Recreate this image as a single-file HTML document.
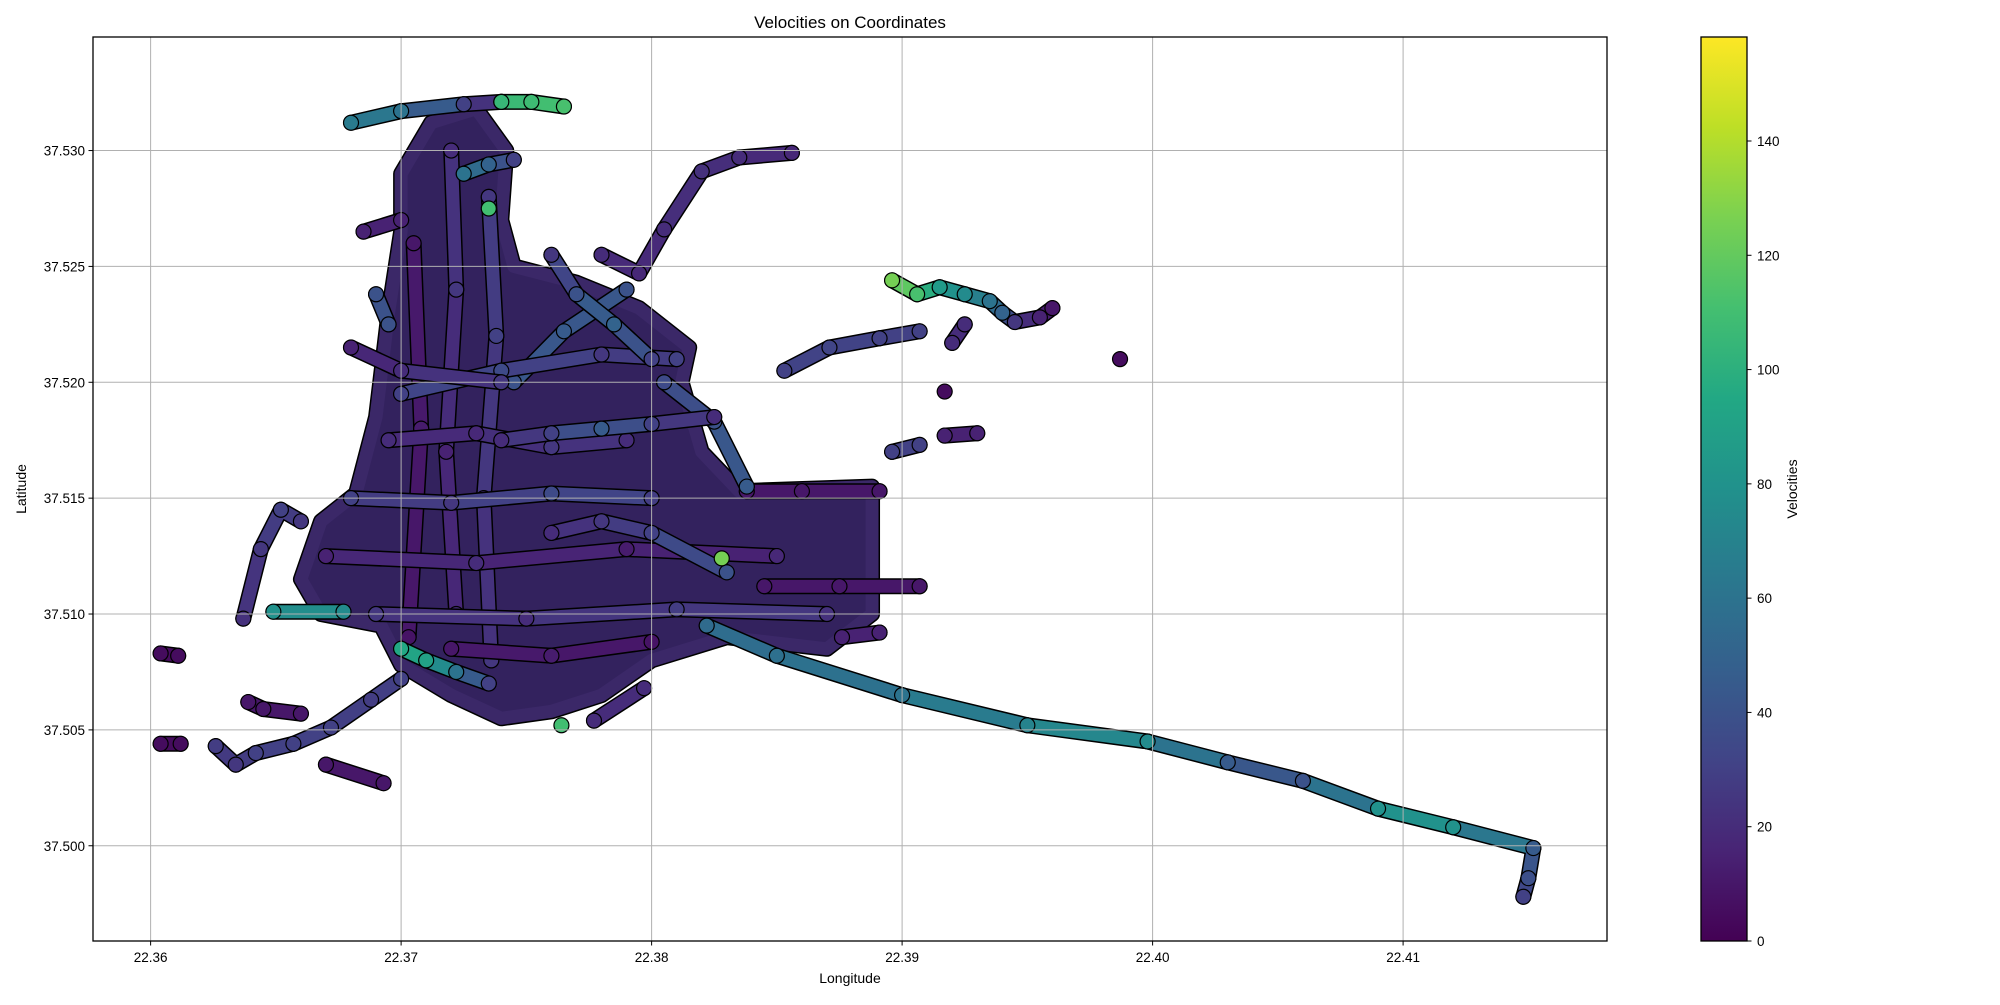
<!DOCTYPE html>
<html><head><meta charset="utf-8"><style>
body{margin:0;background:#fff}
svg text{font-family:"Liberation Sans","DejaVu Sans",sans-serif;fill:#000}
</style></head><body>
<svg id="chart" width="2000" height="1000" viewBox="0 0 2000 1000" xmlns="http://www.w3.org/2000/svg">
<defs><linearGradient id="vir" x1="0" y1="1" x2="0" y2="0">
<stop offset="0" stop-color="#440154"/><stop offset="0.1" stop-color="#482475"/><stop offset="0.2" stop-color="#414487"/><stop offset="0.3" stop-color="#355f8d"/><stop offset="0.4" stop-color="#2a788e"/><stop offset="0.5" stop-color="#21918c"/><stop offset="0.6" stop-color="#22a884"/><stop offset="0.7" stop-color="#44bf70"/><stop offset="0.8" stop-color="#7ad151"/><stop offset="0.9" stop-color="#bddf26"/><stop offset="1" stop-color="#fde725"/></linearGradient>
<clipPath id="clip"><rect x="93" y="37" width="1514" height="904"/></clipPath></defs>
<text x="850" y="28" font-size="17" text-anchor="middle">Velocities on Coordinates</text>
<g id="plot" clip-path="url(#clip)"></g>
<g id="grid"></g>
<rect x="93" y="37" width="1514" height="904" fill="none" stroke="#000" stroke-width="1.3"/>
<g id="axes"></g>
<text x="850" y="983" font-size="14" text-anchor="middle">Longitude</text>
<text transform="translate(26,489) rotate(-90)" font-size="14" text-anchor="middle">Latitude</text>
<rect x="1701" y="37" width="46" height="904" fill="url(#vir)" stroke="#000" stroke-width="1.3"/>
<g id="cbar"></g>
<text transform="translate(1797,489) rotate(-90)" font-size="14" text-anchor="middle">Velocities</text>
</svg>
<script>
const xTicks=[22.36,22.37,22.38,22.39,22.40,22.41];
const yTicks=[37.500,37.505,37.510,37.515,37.520,37.525,37.530];
const cTicks=[0,20,40,60,80,100,120,140];
const vMax=158.2;
const coreLon=[22.3700,22.3712,22.3730,22.3742,22.3740,22.3745,22.3770,22.3795,22.3815,22.3812,22.3820,22.3835,22.3888,22.3888,22.3870,22.3830,22.3800,22.3780,22.3760,22.3740,22.3720,22.3700,22.3692,22.3668,22.3660,22.3668,22.3682,22.3690,22.3695,22.3700];
const coreLat=[37.5290,37.5312,37.5318,37.5300,37.5270,37.5250,37.5243,37.5232,37.5215,37.5200,37.5170,37.5153,37.5155,37.5100,37.5085,37.5090,37.5080,37.5065,37.5058,37.5055,37.5065,37.5078,37.5095,37.5100,37.5115,37.5140,37.5152,37.5185,37.5230,37.5265];
const trackLon=[
[22.3720,22.3722,22.3718,22.3722],
[22.3735,22.3738,22.3733,22.3736],
[22.3705,22.3708,22.3703],
[22.3690,22.3750,22.3810,22.3870],
[22.3670,22.3730,22.3790,22.3850],
[22.3680,22.3720,22.3760,22.3800],
[22.3695,22.3730,22.3760,22.3790],
[22.3720,22.3760,22.3800],
[22.3745,22.3765,22.3790],
[22.3700,22.3740,22.3780,22.3810],
[22.3680,22.3700,22.3740],
[22.3760,22.3780,22.3800,22.3830],
[22.3680,22.3700,22.3725,22.3740],
[22.3740,22.3752,22.3765],
[22.3780,22.3795,22.3805,22.3820,22.3835,22.3856],
[22.3896,22.3906,22.3915,22.3925,22.3935,22.3940,22.3945,22.3955,22.3960],
[22.3853,22.3871,22.3891,22.3907],
[22.3920,22.3925],
[22.3896,22.3907],
[22.3917,22.3930],
[22.3838,22.3860,22.3891],
[22.3845,22.3875,22.3907],
[22.3637,22.3644,22.3652,22.3660],
[22.3604,22.3611],
[22.3604,22.3612],
[22.3626,22.3634,22.3642,22.3657,22.3672,22.3688,22.3700],
[22.3670,22.3693],
[22.3639,22.3645,22.3660],
[22.3649,22.3677],
[22.3876,22.3891],
[22.3777,22.3797],
[22.3805,22.3825,22.3838],
[22.3822,22.3850,22.3900,22.3950,22.3998,22.4030,22.4060,22.4090,22.4120,22.4152,22.4150,22.4148],
[22.3685,22.3700],
[22.3690,22.3695],
[22.3700,22.3710,22.3722,22.3735],
[22.3760,22.3770,22.3785,22.3800],
[22.3740,22.3760,22.3780,22.3800,22.3825],
[22.3725,22.3735,22.3745],
[22.3987],[22.3917],[22.3735],[22.3828],[22.3764]
];
const trackLat=[
[37.5300,37.5240,37.5170,37.5100],
[37.5280,37.5220,37.5150,37.5080],
[37.5260,37.5180,37.5090],
[37.5100,37.5098,37.5102,37.5100],
[37.5125,37.5122,37.5128,37.5125],
[37.5150,37.5148,37.5152,37.5150],
[37.5175,37.5178,37.5172,37.5175],
[37.5085,37.5082,37.5088],
[37.5200,37.5222,37.5240],
[37.5195,37.5205,37.5212,37.5210],
[37.5215,37.5205,37.5200],
[37.5135,37.5140,37.5135,37.5118],
[37.5312,37.5317,37.5320,37.5321],
[37.5321,37.5321,37.5319],
[37.5255,37.5247,37.5266,37.5291,37.5297,37.5299],
[37.5244,37.5238,37.5241,37.5238,37.5235,37.5230,37.5226,37.5228,37.5232],
[37.5205,37.5215,37.5219,37.5222],
[37.5217,37.5225],
[37.5170,37.5173],
[37.5177,37.5178],
[37.5153,37.5153,37.5153],
[37.5112,37.5112,37.5112],
[37.5098,37.5128,37.5145,37.5140],
[37.5083,37.5082],
[37.5044,37.5044],
[37.5043,37.5035,37.5040,37.5044,37.5051,37.5063,37.5072],
[37.5035,37.5027],
[37.5062,37.5059,37.5057],
[37.5101,37.5101],
[37.5090,37.5092],
[37.5054,37.5068],
[37.5200,37.5183,37.5155],
[37.5095,37.5082,37.5065,37.5052,37.5045,37.5036,37.5028,37.5016,37.5008,37.4999,37.4986,37.4978],
[37.5265,37.5270],
[37.5238,37.5225],
[37.5085,37.5080,37.5075,37.5070],
[37.5255,37.5238,37.5225,37.5210],
[37.5175,37.5178,37.5180,37.5182,37.5185],
[37.5290,37.5294,37.5296],
[37.5210],[37.5196],[37.5275],[37.5124],[37.5052]
];
const trackVel=[
[20,25,15,20],[25,30,20,25],[10,12,8],[25,20,28,22],[15,20,12,18],[30,25,35,28],[20,18,25,20],[10,12,8],[40,45,40],[30,35,25,30],[15,20,25],[20,25,30,40],
[65,60,30,15],[105,108,112],[20,18,20,22,20,18],[125,112,85,75,60,50,25,15,10],[30,32,30,30],[20,20],[30,30],[15,15],[10,10,10],[10,10,10],[22,25,30,25],[5,5],[5,5],[28,25,30,30,30,28,30],[10,10],[10,10,10],[80,75],[15,15],[20,20],[35,40,45],
[55,58,60,70,75,45,40,80,80,45,38,30],[15,15],[40,40],[95,90,60,30],[25,40,50,30],[20,30,45,30,20],[60,50,30],
[5],[5],[110],[125],[110]
];
const NS="http://www.w3.org/2000/svg";
const X0=93,X1=1607,Y0=37,Y1=941,LON0=22.3577,LON1=22.41814,LAT0=37.49589,LAT1=37.5349;
function sx(v){return X0+(v-LON0)/(LON1-LON0)*(X1-X0);}
function sy(v){return Y1-(v-LAT0)/(LAT1-LAT0)*(Y1-Y0);}
const vir=["#440154","#482475","#414487","#355f8d","#2a788e","#21918c","#22a884","#44bf70","#7ad151","#bddf26","#fde725"];
function hx(h){return [1,3,5].map(i=>parseInt(h.substr(i,2),16));}
function color(v){let t=Math.max(0,Math.min(1,v/vMax))*10;let i=Math.min(9,Math.floor(t)),f=t-i;const a=hx(vir[i]),b=hx(vir[i+1]);return "rgb("+a.map((c,k)=>Math.round(c+(b[k]-c)*f)).join(",")+")";}
function mk(tag,at,parent){const e=document.createElementNS(NS,tag);for(const k in at)e.setAttribute(k,at[k]);parent.appendChild(e);return e;}
const plot=document.getElementById('plot');
const pts=coreLon.map((v,i)=>sx(v)+","+sy(coreLat[i])).join(" ");
const core=mk('polygon',{points:pts,fill:"#30205a",stroke:"#000","stroke-width":"16","stroke-linejoin":"round"},plot);


mk('polygon',{points:pts,fill:"#33225e",stroke:"#3b2868","stroke-width":"13","stroke-linejoin":"round"},plot);
trackLon.forEach((lons,ti)=>{
  const lats=trackLat[ti],vels=trackVel[ti];
  const g=mk('g',{},plot);
  
  
  for(let i=0;i<lons.length-1;i++){
    mk('line',{x1:sx(lons[i]),y1:sy(lats[i]),x2:sx(lons[i+1]),y2:sy(lats[i+1]),stroke:"#000","stroke-width":16,"stroke-linecap":"round"},g);
  }
  for(let i=0;i<lons.length-1;i++){
    mk('line',{x1:sx(lons[i]),y1:sy(lats[i]),x2:sx(lons[i+1]),y2:sy(lats[i+1]),stroke:color((vels[i]+vels[i+1])/2),"stroke-width":13,"stroke-linecap":"round"},g);
  }
  lons.forEach((v,i)=>{
    const c=mk('circle',{cx:sx(v),cy:sy(lats[i]),r:7.5,fill:color(vels[i]),stroke:"#000","stroke-width":1.2},g);
    
    
  });
});
const grid=document.getElementById('grid'),axes=document.getElementById('axes'),cbar=document.getElementById('cbar');
xTicks.forEach(v=>{const x=sx(v);
  const l=mk('line',{x1:x,y1:Y0,x2:x,y2:Y1,stroke:"#b0b0b0","stroke-width":1},grid);
  
  
  mk('line',{x1:x,y1:Y1,x2:x,y2:Y1+4.5,stroke:"#000","stroke-width":1},axes);
  const t=mk('text',{x:x,y:Y1+21,"font-size":"13.5","text-anchor":"middle"},axes);t.textContent=v.toFixed(2);
  
  });
yTicks.forEach(v=>{const y=sy(v);
  const l=mk('line',{x1:X0,y1:y,x2:X1,y2:y,stroke:"#b0b0b0","stroke-width":1},grid);
  
  
  mk('line',{x1:X0-4.5,y1:y,x2:X0,y2:y,stroke:"#000","stroke-width":1},axes);
  const t=mk('text',{x:X0-8,y:y+5,"font-size":"13.5","text-anchor":"end"},axes);t.textContent=v.toFixed(3);
  
  });
cTicks.forEach(v=>{const y=Y1-v/vMax*(Y1-Y0);
  mk('line',{x1:1747,y1:y,x2:1751.5,y2:y,stroke:"#000","stroke-width":1},cbar);
  const t=mk('text',{x:1757,y:y+5,"font-size":"13.5"},cbar);t.textContent=v;
  
  });
</script>
</body></html>
